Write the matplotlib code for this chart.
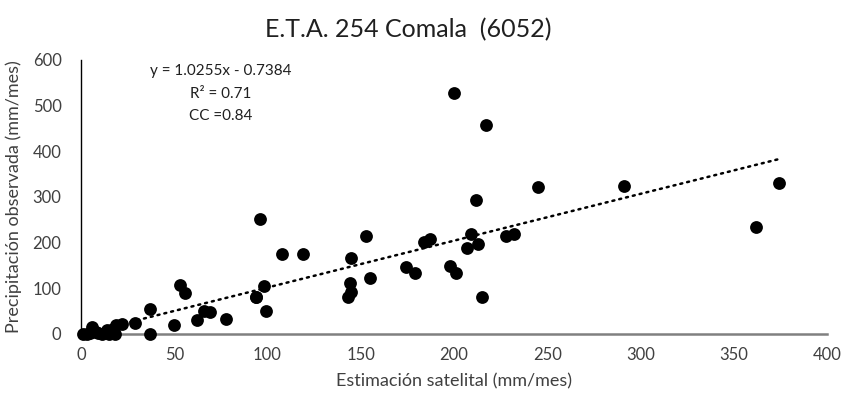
import matplotlib
matplotlib.use("Agg")
import matplotlib.pyplot as plt
import numpy as np

plt.rcParams['font.family'] = ['Lato', 'DejaVu Sans']

# Estimación satelital (mm/mes) vs precipitación observada (mm/mes)
sat = [1, 3, 5, 6, 8, 9, 11, 14, 15, 17, 18, 19, 22, 29, 37, 37,
       50, 53, 56, 62, 66, 69, 78, 94, 96, 98, 99, 94,
       108, 119, 143, 144, 145, 145, 153, 155, 174, 179, 184, 187,
       198, 201, 200, 207, 209, 212, 213, 215, 217, 228, 232,
       245, 291, 362, 374]
obs = [0, 0, 2, 15, 5, 3, 0, 8, 1, 10, 0, 20, 22, 23, 55, 0,
       20, 108, 90, 31, 51, 48, 33, 80, 251, 105, 51, 80,
       175, 175, 80, 112, 93, 167, 214, 123, 146, 133, 201, 207,
       149, 134, 527, 189, 220, 293, 196, 82, 457, 215, 219,
       321, 325, 234, 330]

slope, intercept = 1.0255, -0.7384
title = "E.T.A. 254 Comala  (6052)"
eq_lines = ["y = 1.0255x - 0.7384", "R² = 0.71", "CC =0.84"]

fig = plt.figure(figsize=(8.44, 3.95), dpi=100)
ax = fig.add_axes([81 / 844, 1 - 334 / 395, (827 - 81) / 844, (334 - 60) / 395])

ax.scatter(sat, obs, s=85, color='black', zorder=3, linewidths=0, clip_on=False)

xs = np.array([min(sat), max(sat)])
ax.plot(xs, slope * xs + intercept, color='black', lw=1.8,
        linestyle=(0, (0.8, 2.0)), dash_capstyle='round', zorder=2)

ax.set_xlim(0, 400)
ax.set_ylim(0, 600)
ax.set_xticks(np.arange(0, 401, 50))
ax.set_yticks(np.arange(0, 601, 100))
ax.tick_params(length=0, labelsize=12, colors='#404040')
ax.tick_params(axis='y', pad=14)
ax.tick_params(axis='x', pad=9)

for s in ['top', 'right']:
    ax.spines[s].set_visible(False)
ax.spines['left'].set_color('black')
ax.spines['left'].set_linewidth(1.0)
ax.spines['bottom'].set_color('#808080')
ax.spines['bottom'].set_linewidth(1.8)

ax.set_xlabel("Estimación satelital (mm/mes)", fontsize=13, color='#404040', labelpad=8)
ax.set_ylabel("Precipitación observada (mm/mes)", fontsize=13, color='#404040', labelpad=8)
fig.text(408 / 844, 1 - 30 / 395, title, fontsize=18, ha='center', va='center', color='#202020')

for i, line in enumerate(eq_lines):
    ax.text(75, 575 - i * 49, line, fontsize=11, ha='center', va='center', color='#202020')

fig.savefig("out.png", dpi=100)
